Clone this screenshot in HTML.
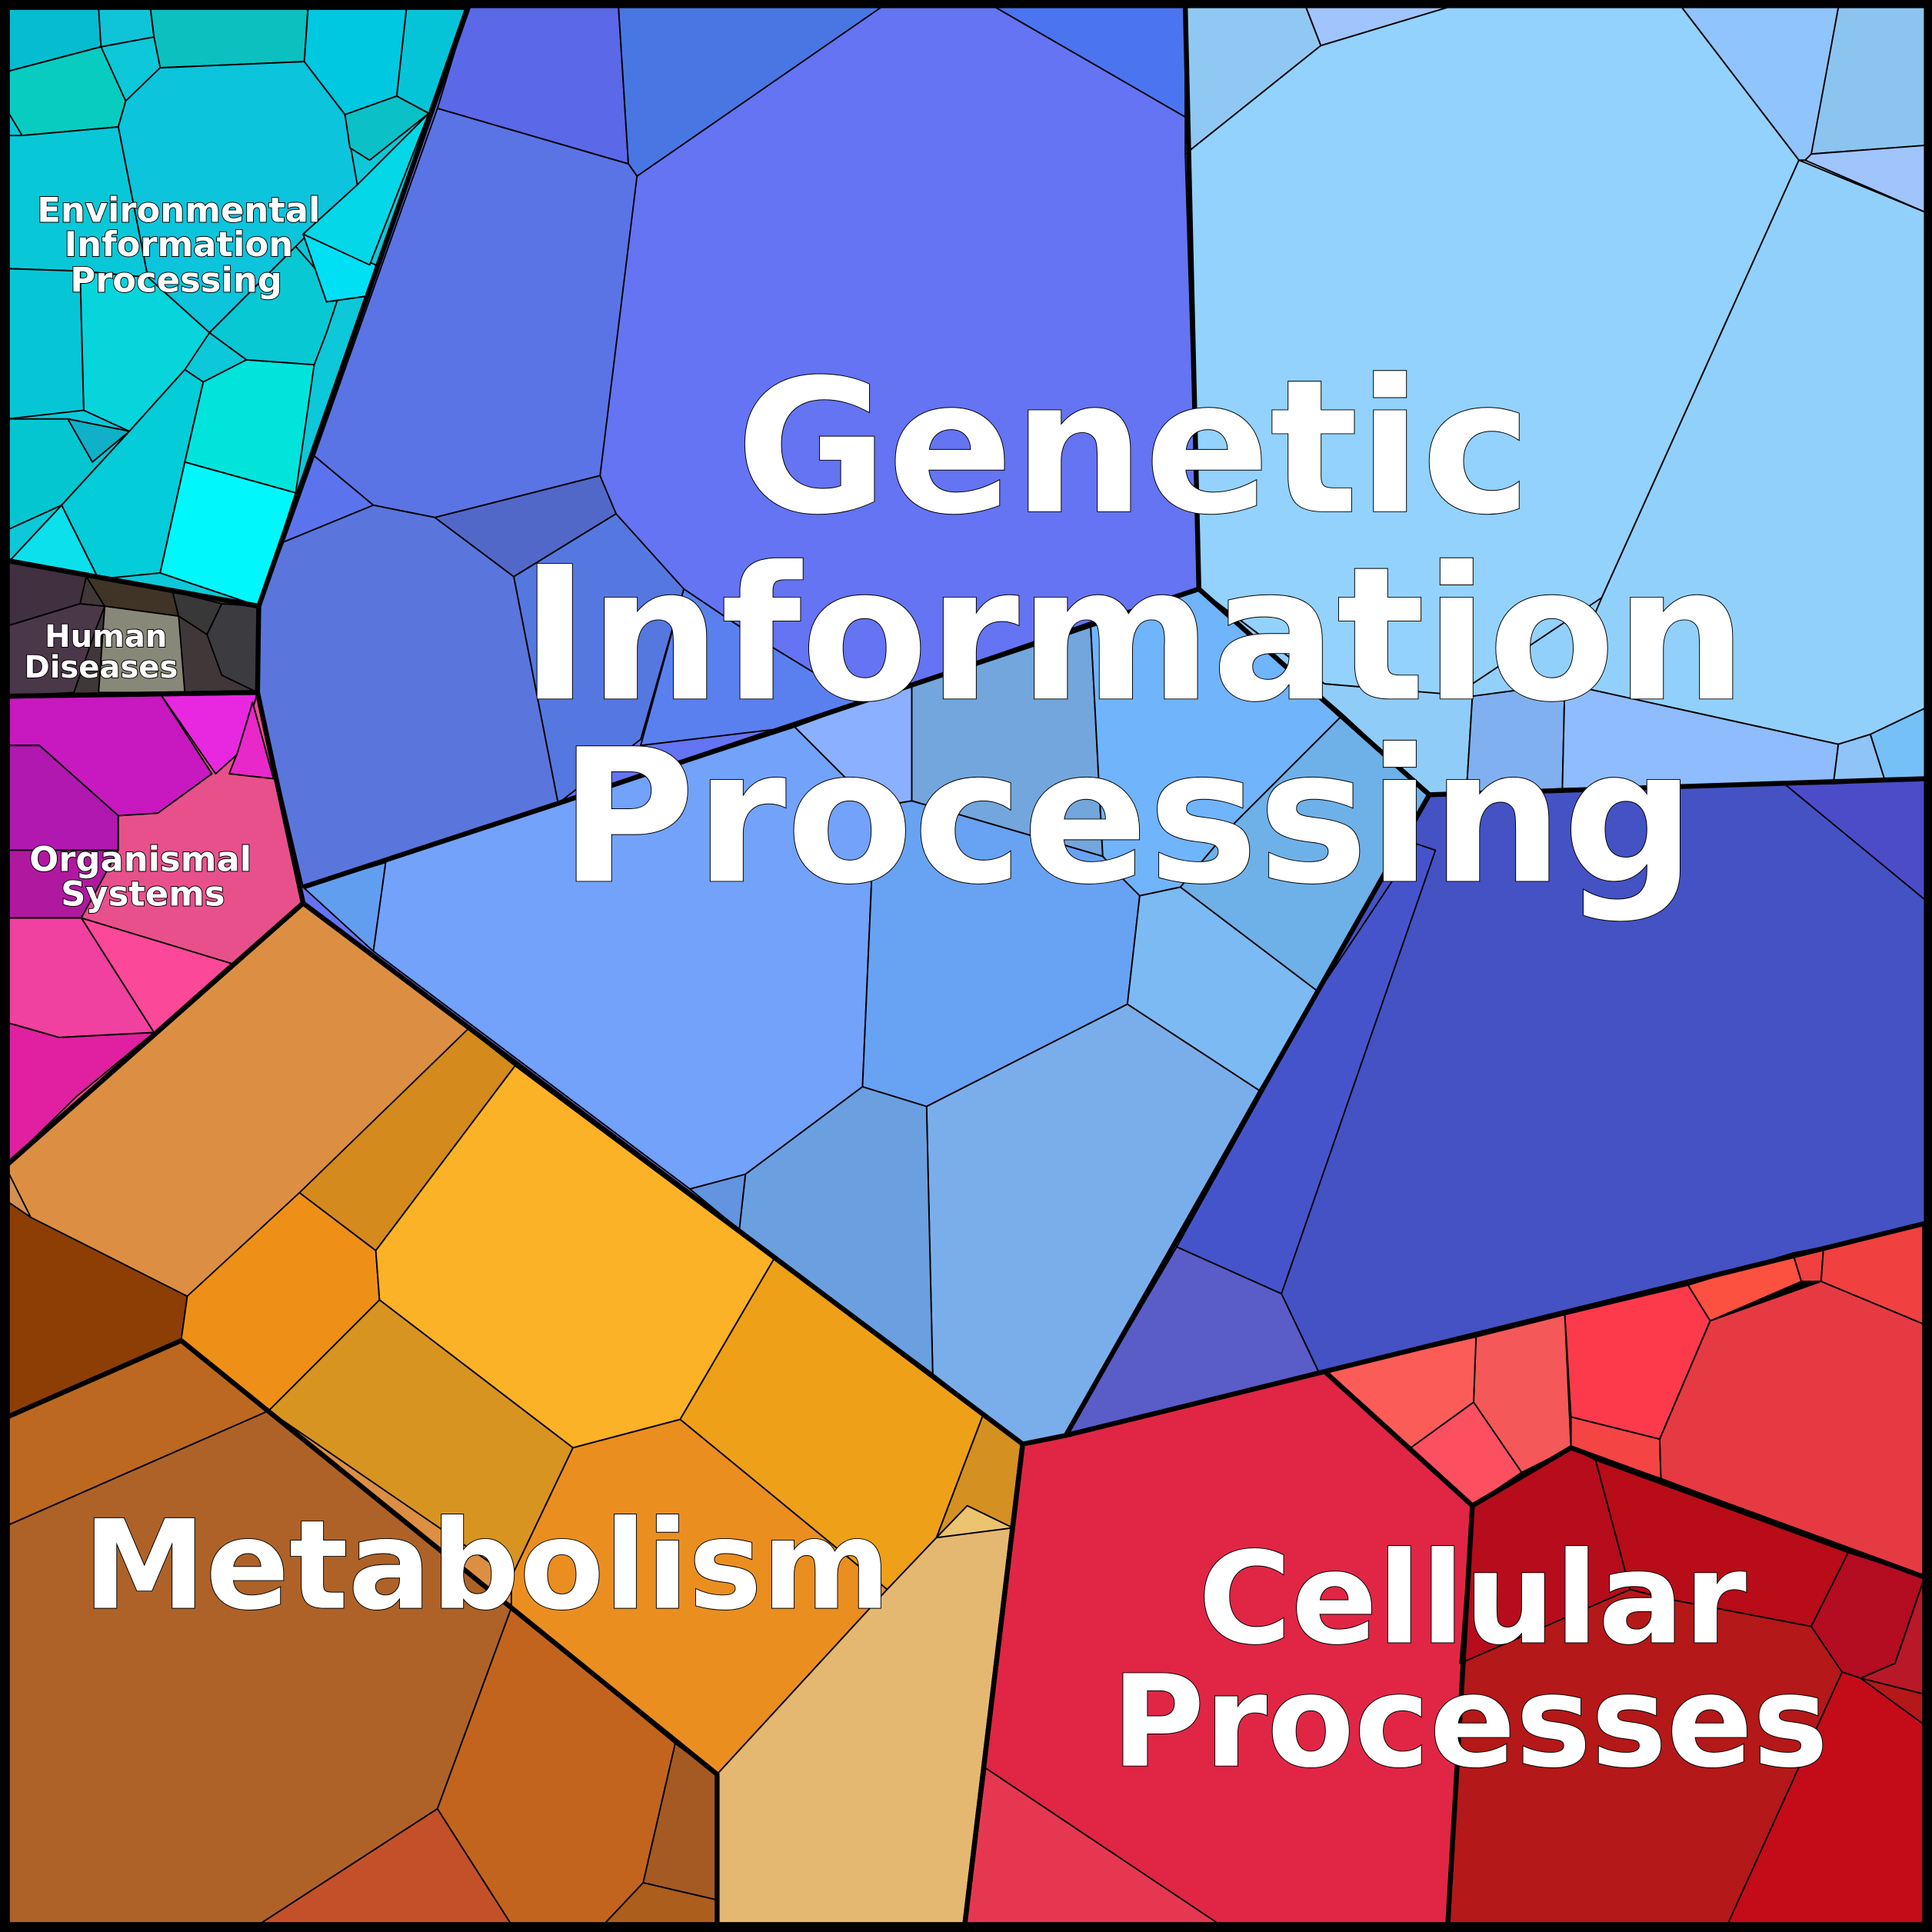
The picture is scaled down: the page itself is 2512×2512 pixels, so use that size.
<!DOCTYPE html>
<html><head><meta charset="utf-8"><style>html,body{margin:0;padding:0;background:#000}svg{display:block}</style></head><body>
<svg xmlns="http://www.w3.org/2000/svg" width="2512" height="2512" viewBox="0 0 1568 1568">
<rect width="1568" height="1568" fill="#000"/>
<g stroke="#000" stroke-width="1.2" stroke-linejoin="round">
<!-- Environmental -->
<polygon points="6,6 380,6 210,492 6,455" fill="#0cc8d8"/>
<polygon points="6,6 80,6 82,38 6,58" fill="#06bcd0"/>
<polygon points="80,6 122,6 125,30 82,38" fill="#10c4d8"/>
<polygon points="122,6 250,6 247,50 130,55 125,30" fill="#0cc0c0"/>
<polygon points="6,58 82,38 102,82 96,103 18,110 6,90" fill="#08ccc0"/>
<polygon points="102,82 130,55 247,50 280,93 290,150 240,200 170,270 120,225 96,103" fill="#0cc4dc"/>
<polygon points="250,6 330,6 322,78 280,93 247,50" fill="#00c8e0"/>
<polygon points="330,6 378,6 348,92 322,78" fill="#06c4d8"/>
<polygon points="280,93 322,78 348,92 300,130 284,120" fill="#0cc0c8"/>
<polygon points="6,110 18,110 96,103 120,225 65,220 6,218" fill="#08c8d8"/>
<polygon points="6,218 65,220 68,333 6,340" fill="#06c6d6"/>
<polygon points="65,220 120,225 170,270 150,300 105,350 68,333" fill="#08d4dc"/>
<polygon points="6,340 55,340 105,350 50,410 6,430" fill="#04c6d0"/>
<polygon points="55,340 105,350 75,375" fill="#10b0c8"/>
<polygon points="105,350 150,300 165,310 150,375 130,465 80,470 50,410" fill="#04ccd8"/>
<polygon points="165,310 200,292 255,296 240,400 150,375" fill="#00e4dc"/>
<polygon points="150,375 240,400 210,492 130,465" fill="#00f8fc"/>
<polygon points="50,410 80,470 8,455" fill="#0ce0ec"/>
<polygon points="240,200 275,240 265,270 255,296 200,292 170,270" fill="#08c8d4"/>
<polygon points="246,190 305,215 300,240 265,245" fill="#00e0f4"/>
<polygon points="290,150 348,92 300,215 246,190" fill="#04d8e8"/>
<!-- Human diseases -->
<polygon points="6,455 210,492 209,562 6,565" fill="#403838"/>
<polygon points="6,455 70,468 65,490 6,508" fill="#403040"/>
<polygon points="70,468 140,480 145,500 85,492" fill="#403426"/>
<polygon points="85,492 145,500 150,562 80,562" fill="#888878"/>
<polygon points="140,480 180,490 168,515 145,500" fill="#383838"/>
<polygon points="168,515 180,490 210,492 209,562 180,548" fill="#3c3c40"/>
<polygon points="6,508 65,490 85,492 78,510 60,562 6,565" fill="#4a3848"/>
<!-- Organismal -->
<polygon points="6,565 209,562 246,733 6,945" fill="#e8508c"/>
<polygon points="6,565 130,563 172,628 128,660 96,662 32,605 6,605" fill="#c818c0"/>
<polygon points="130,563 209,562 195,610 175,628" fill="#e828e0"/>
<polygon points="193,610 205,570 222,632 186,628" fill="#e828c8"/>
<polygon points="6,605 32,605 96,662 96,690 6,690" fill="#b018b0"/>
<polygon points="6,690 96,690 66,745 6,745" fill="#b018a0"/>
<polygon points="125,838 66,745 188,782" fill="#fc4898"/>
<polygon points="6,745 66,745 125,838 48,842 6,830" fill="#f040a0"/>
<polygon points="6,830 48,842 125,838 62,890 6,945" fill="#e020a0"/>
<!-- Genetic -->
<polygon points="380,6 1562,6 1562,993 865,1165 830,1172 246,733 209,562 210,492" fill="#6474f2"/>
<polygon points="962,6 1562,6 1562,632 1160,645 973,478" fill="#92d0fc"/>
<polygon points="380,6 502,6 510,133 355,88" fill="#5b68e8"/>
<polygon points="502,6 715,6 517,143 510,133" fill="#4877e3"/>
<polygon points="808,6 962,6 962,95" fill="#4a74f0"/>
<polygon points="355,88 510,133 517,143 487,386 353,420 303,410 255,370" fill="#5a74e6"/>
<polygon points="255,370 303,410 230,440" fill="#5b74ee"/>
<polygon points="230,440 303,410 353,420 417,468 453,652 246,720 209,562 210,492" fill="#5a76dc"/>
<polygon points="353,420 487,386 500,417 417,468" fill="#5268c8"/>
<polygon points="417,468 500,417 555,478 520,600 453,652" fill="#5578e0"/>
<polygon points="555,478 610,515 700,570 645,590 520,605" fill="#5a80f0"/>
<polygon points="246,720 453,652 645,590 710,655 700,882 605,953 560,965 303,772 313,700" fill="#72a2fa"/>
<polygon points="246,720 313,700 303,772" fill="#629ef0"/>
<polygon points="645,590 740,555 740,650 710,655" fill="#8ab0ff"/>
<polygon points="740,555 885,505 895,695 740,650" fill="#72a6dc"/>
<polygon points="885,505 973,478 1090,580 1000,670 958,720 925,727 910,712 895,695" fill="#70b4fc"/>
<polygon points="710,655 740,650 895,695 910,712 925,727 915,815 752,898 700,882" fill="#68a2f2"/>
<polygon points="958,720 1000,670 1090,580 1160,645 1070,805" fill="#6eb0e8"/>
<polygon points="925,727 958,720 1070,805 1022,885 915,815" fill="#7cbaf4"/>
<polygon points="752,898 915,815 1022,885 865,1165 830,1172 757,1115" fill="#7aaeea"/>
<polygon points="605,953 700,882 752,898 757,1115 600,998" fill="#6aa0e0"/>
<polygon points="560,965 605,953 600,998" fill="#6294e0"/>
<polygon points="1160,645 1562,632 1562,993 1070,1113 1040,1050 955,1012 1070,805" fill="#4452c4"/>
<polygon points="955,1012 1070,805 1150,685 1165,690 1040,1050" fill="#4654cc"/>
<polygon points="865,1165 955,1012 1040,1050 1070,1113" fill="#5a5cc8"/>
<polygon points="1448,636 1562,632 1562,730" fill="#4c4cc8"/>
<polygon points="962,6 1060,6 1072,37 962,125" fill="#90c8f4"/>
<polygon points="1060,6 1175,6 1072,37" fill="#a0c4fc"/>
<polygon points="962,125 1072,37 1175,6 1365,6 1460,130 1300,485 1180,565 1075,555 973,478" fill="#92d2fd"/>
<polygon points="1365,6 1492,6 1470,130 1460,130" fill="#90c4fc"/>
<polygon points="1492,6 1562,6 1562,118 1470,125" fill="#8cc4f0"/>
<polygon points="1465,130 1470,125 1562,118 1562,172" fill="#a0c4fc"/>
<polygon points="1460,130 1562,172 1562,575 1518,596 1492,604 1270,555 1300,485" fill="#92d0fc"/>
<polygon points="973,478 1075,555 1195,565 1190,645 1160,645 1090,580" fill="#90ccf8"/>
<polygon points="1195,565 1270,555 1268,640 1190,645" fill="#80b0f0"/>
<polygon points="1270,555 1492,604 1488,636 1268,640" fill="#8ebcfc"/>
<polygon points="1492,604 1518,596 1530,634 1488,636" fill="#8ec4f8"/>
<polygon points="1518,596 1562,575 1562,632 1530,634" fill="#76c0f8"/>
<!-- Cellular -->
<polygon points="830,1172 865,1165 1075,1113 1195,1222 1175,1562 783,1562" fill="#e02644"/>
<polygon points="800,1435 990,1562 783,1562" fill="#e53850"/>
<polygon points="1075,1113 1198,1085 1196,1138 1145,1175" fill="#fc5c58"/>
<polygon points="1145,1175 1196,1138 1235,1195 1195,1222" fill="#fc5060"/>
<polygon points="1198,1085 1270,1067 1275,1175 1235,1195 1196,1138" fill="#f45858"/>
<polygon points="1270,1067 1370,1043 1388,1072 1347,1168 1275,1150" fill="#fc3a4c"/>
<polygon points="1275,1150 1347,1168 1348,1200 1275,1175" fill="#f44444"/>
<polygon points="1370,1043 1455,1017 1462,1040 1388,1072" fill="#fc5040"/>
<polygon points="1455,1017 1480,1012 1478,1040 1462,1040" fill="#f04040"/>
<polygon points="1480,1012 1562,993 1562,1075 1478,1040" fill="#f04040"/>
<polygon points="1388,1072 1478,1040 1562,1075 1562,1280 1348,1200 1347,1168" fill="#e63a42"/>
<polygon points="1195,1222 1275,1175 1562,1280 1562,1562 1175,1562" fill="#b41818"/>
<polygon points="1275,1175 1295,1185 1323,1290 1185,1350 1195,1222" fill="#b60c1c"/>
<polygon points="1295,1185 1500,1260 1470,1320 1355,1298 1323,1290" fill="#b80c18"/>
<polygon points="1500,1260 1562,1280 1538,1350 1510,1362 1495,1357 1470,1320" fill="#b40c20"/>
<polygon points="1538,1350 1562,1280 1562,1375 1510,1362" fill="#b81828"/>
<polygon points="1495,1357 1510,1362 1562,1400 1562,1562 1402,1562" fill="#c40c18"/>
<!-- Metabolism -->
<polygon points="6,945 246,733 830,1172 783,1562 6,1562" fill="#dc8f42"/>
<polygon points="6,975 25,988 152,1052 147,1088 6,1150" fill="#8c3e04"/>
<polygon points="6,950 25,988 6,975" fill="#d49050"/>
<polygon points="380,835 418,865 305,1015 243,968" fill="#d48a1c"/>
<polygon points="243,968 305,1015 308,1055 218,1145 147,1088 152,1052" fill="#ee9018"/>
<polygon points="418,865 628,1022 552,1152 465,1175 308,1055 305,1015" fill="#fcb226"/>
<polygon points="308,1055 465,1175 415,1280 218,1145" fill="#d89420"/>
<polygon points="628,1022 798,1148 760,1248 720,1290 552,1152" fill="#eea018"/>
<polygon points="798,1148 830,1172 822,1240 760,1248" fill="#d49020"/>
<polygon points="760,1248 785,1222 822,1240" fill="#ecc470"/>
<polygon points="465,1175 552,1152 720,1290 582,1440 415,1305 415,1280" fill="#ea8e20"/>
<polygon points="822,1240 830,1172 783,1562 582,1562 582,1440 720,1290 760,1248" fill="#e4b870"/>
<polygon points="6,1150 147,1088 218,1145 6,1238" fill="#bc6820"/>
<polygon points="6,1238 218,1145 415,1305 355,1468 210,1562 6,1562" fill="#ae6228"/>
<polygon points="415,1305 548,1415 522,1528 490,1562 415,1562 355,1468" fill="#c2641e"/>
<polygon points="355,1468 415,1562 210,1562" fill="#c4502a"/>
<polygon points="548,1415 582,1440 582,1542 522,1528" fill="#a45a22"/>
<polygon points="522,1528 582,1542 582,1562 490,1562" fill="#ac5e1c"/>
</g>
<g fill="none" stroke="#000" stroke-width="4" stroke-linejoin="round">
<polygon points="6,6 380,6 210,492 6,455"/>
<polygon points="6,455 210,492 209,562 6,565"/>
<polygon points="6,565 209,562 246,733 6,945"/>
<polygon points="6,945 246,733 830,1172 783,1562 6,1562"/>
<polygon points="830,1172 865,1165 1562,993 1562,1562 783,1562"/>
<polyline points="246,720 453,652 973,478 1160,645 1562,632"/>
<polyline points="973,478 962,6"/>
<polyline points="1160,645 865,1165"/>
<polyline points="6,1150 147,1088 582,1440 582,1562"/>
<polyline points="1195,1222 1275,1175 1562,1280"/>
<polyline points="1075,1113 1195,1222 1175,1562"/>
<rect x="3" y="3" width="1562" height="1562" stroke-width="7"/>
</g>
<g font-family="'DejaVu Sans','Liberation Sans',sans-serif" font-weight="bold" fill="#fff" stroke="#000" stroke-width="1.2" paint-order="stroke" text-anchor="middle">
<text x="920" y="415" font-size="150">Genetic</text>
<text x="920" y="567" font-size="150">Information</text>
<text x="915" y="715" font-size="150">Processing</text>
<text x="395" y="1305" font-size="100">Metabolism</text>
<text x="1195" y="1333" font-size="103">Cellular</text>
<text x="1193" y="1433" font-size="103">Processes</text>
<text x="145" y="180" font-size="28">Environmental</text>
<text x="145" y="208" font-size="28">Information</text>
<text x="143" y="237" font-size="28">Processing</text>
<text x="86" y="525" font-size="25">Human</text>
<text x="82" y="550" font-size="25">Diseases</text>
<text x="114" y="707" font-size="28">Organismal</text>
<text x="116" y="735" font-size="28">Systems</text>
</g>
</svg>
</body></html>
